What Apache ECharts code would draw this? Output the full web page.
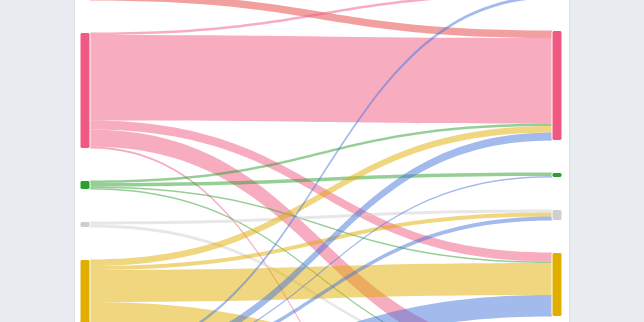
<!DOCTYPE html>
<html>
<head>
<meta charset="utf-8">
<script src="https://cdn.jsdelivr.net/npm/echarts@6/dist/echarts.min.js"></script>
<style>
  html, body { margin: 0; padding: 0; width: 644px; height: 322px; overflow: hidden; background: #e9ecf0; }
  #card { position: absolute; left: 75px; top: -200px; width: 494px; height: 1000px; background: #fff;
          box-shadow: 0 0 2px rgba(0,0,0,0.14); }
  #chart { position: absolute; left: 0; top: -100px; width: 644px; height: 800px; }
</style>
</head>
<body>
<div id="card"></div>
<div id="chart"></div>
<script>
// Node categories (left = before, right = after)
const leftNames  = ['Red (from)', 'Pink (from)', 'Green (from)', 'Gray (from)', 'Yellow (from)', 'Blue (from)'];
const rightNames = ['Red (to)', 'Pink (to)', 'Green (to)', 'Gray (to)', 'Yellow (to)', 'Blue (to)', 'Other (to)'];
const leftColors  = ['#e5423f', '#f05a82', '#2ca02c', '#cfcfcf', '#e2ae00', '#4875dc'];
const rightColors = ['#e5423f', '#f05a82', '#2ca02c', '#cfcfcf', '#e2ae00', '#4875dc', '#8e6bbf'];

// Flows: index into leftNames -> index into rightNames, with values
const linkSource = [0, 0,  1, 1, 1, 1, 1,  2, 2, 2, 2,  3, 3,  4, 4, 4, 4,  5, 5, 5, 5, 5, 5, 5];
const linkTarget = [0, 1,  0, 1, 4, 5, 6,  1, 2, 4, 5,  3, 5,  1, 3, 4, 5,  0, 1, 2, 3, 4, 5, 6];
const linkValue  = [53, 7.5,  2.5, 85.5, 9, 17, 2,  2.5, 3.5, 1.5, 1.5,  3, 3,  6.5, 4, 32, 21.5,  3, 8, 1.5, 4, 21.5, 146.5, 10];

const nodes = [];
leftNames.forEach((n, i) => nodes.push({ name: n, itemStyle: { color: leftColors[i] } }));
rightNames.forEach((n, i) => nodes.push({ name: n, itemStyle: { color: rightColors[i] } }));
const links = linkValue.map((v, i) => ({
  source: leftNames[linkSource[i]],
  target: rightNames[linkTarget[i]],
  value: v
}));

const chart = echarts.init(document.getElementById('chart'), null, { renderer: 'canvas' });
chart.setOption({
  backgroundColor: 'transparent',
  animation: false,
  series: [{
    type: 'sankey',
    left: 80,
    top: 40,
    width: 482,
    height: 642,
    nodeWidth: 10,
    nodeGap: 32,
    layoutIterations: 0,
    draggable: false,
    data: nodes,
    links: links,
    label: { show: false },
    itemStyle: { borderColor: '#fff', borderWidth: 1, borderRadius: 2 },
    lineStyle: { color: 'source', opacity: 0.5, curveness: 0.5 },
    emphasis: { disabled: true }
  }]
});
</script>
</body>
</html>
